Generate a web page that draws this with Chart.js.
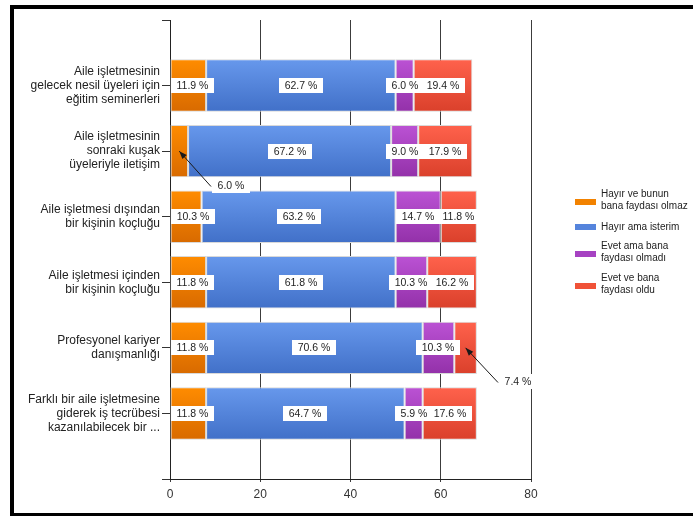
<!DOCTYPE html>
<html>
<head>
<meta charset="utf-8">
<script src="https://cdn.jsdelivr.net/npm/chart.js@4/dist/chart.umd.min.js"></script>
<style>
  html, body { margin: 0; padding: 0; background: #fff; }
  #wrap { position: relative; width: 693px; height: 516px; }
</style>
</head>
<body>
<div id="wrap"><canvas id="chart" width="693" height="516"></canvas></div>
<script>
// Survey topics (y-axis tick labels, one line per array entry)
const categories = [
  ['Aile işletmesinin', 'gelecek nesil üyeleri için', 'eğitim seminerleri'],
  ['Aile işletmesinin', 'sonraki kuşak', 'üyeleriyle iletişim'],
  ['Aile işletmesi dışından', 'bir kişinin koçluğu'],
  ['Aile işletmesi içinden', 'bir kişinin koçluğu'],
  ['Profesyonel kariyer', 'danışmanlığı'],
  ['Farklı bir aile işletmesine', 'giderek iş tecrübesi', 'kazanılabilecek bir ...']
];

// Answer options (legend entries)
const seriesNames = [
  ['Hayır ve bunun', 'bana faydası olmaz'],
  ['Hayır ama isterim'],
  ['Evet ama bana', 'faydası olmadı'],
  ['Evet ve bana', 'faydası oldu']
];

// Number of respondents per answer and topic
const hayirOlmaz   = [8, 4, 7, 8, 8, 8];
const hayirIsterim = [42, 45, 43, 42, 48, 44];
const evetOlmadi   = [4, 6, 10, 7, 7, 4];
const evetOldu     = [13, 12, 8, 11, 5, 12];

// Value axis ticks
const xTicks = [0, 20, 40, 60, 80];

const seriesValues = [hayirOlmaz, hayirIsterim, evetOlmadi, evetOldu];

// top / bottom gradient colours and legend swatch colour per series
const palette = [
  { top: '#ff8c00', bottom: '#d86a00', swatch: '#f28200' },
  { top: '#6798ec', bottom: '#4170c8', swatch: '#5584dc' },
  { top: '#bb52d4', bottom: '#9331a9', swatch: '#a642c2' },
  { top: '#ff624c', bottom: '#da402b', swatch: '#f05238' }
];

// labels that sit outside their (narrow) segment with a pointer arrow
const callouts = [
  { series: 0, row: 1 },
  { series: 3, row: 4 }
];

const FONT = '"Liberation Sans", Arial, Helvetica, sans-serif';
Chart.defaults.font.family = FONT;

function barFill(top, bottom) {
  return (ctx) => {
    const chart = ctx.chart;
    const y = chart.scales && chart.scales.y;
    if (!chart.chartArea || !y || ctx.type !== 'data') return bottom;
    const idx = ctx.parsed ? ctx.parsed.y : ctx.dataIndex;
    const c = y.getPixelForValue(idx);
    const half = Math.abs(y.getPixelForValue(1) - y.getPixelForValue(0)) * 0.4;
    const g = chart.ctx.createLinearGradient(0, c - half, 0, c + half);
    g.addColorStop(0, top);
    g.addColorStop(1, bottom);
    return g;
  };
}

const datasets = seriesValues.map((vals, s) => ({
  label: seriesNames[s].join(' '),
  data: vals.map((v, i) => ({ x: v, y: i })),
  stack: 'all',
  backgroundColor: barFill(palette[s].top, palette[s].bottom),
  borderColor: '#d9d9d9',
  borderWidth: 1,
  borderSkipped: false,
  categoryPercentage: 1,
  barPercentage: 0.8
}));

// white page and the black frame around it
const framePlugin = {
  id: 'frame',
  beforeDraw(chart) {
    const c = chart.ctx;
    c.save();
    c.fillStyle = '#fff';
    c.fillRect(0, 0, chart.width, chart.height);
    c.restore();
  },
  afterDraw(chart) {
    const c = chart.ctx;
    c.save();
    c.fillStyle = '#000';
    c.fillRect(10, 5, chart.width, 4);
    c.fillRect(10, 5, 4, chart.height);
    c.fillRect(10, 513, chart.width, 4);
    c.restore();
  }
};

// percentage labels in white boxes
const valueLabels = {
  id: 'valueLabels',
  afterDatasetsDraw(chart) {
    const c = chart.ctx;
    const area = chart.chartArea;
    const totals = categories.map((_, i) =>
      seriesValues.reduce((sum, vals) => sum + vals[i], 0));
    c.save();
    c.font = '10.5px ' + FONT;
    c.textAlign = 'center';
    c.textBaseline = 'middle';
    seriesValues.forEach((vals, s) => {
      const meta = chart.getDatasetMeta(s);
      meta.data.forEach((bar, i) => {
        const text = (vals[i] / totals[i] * 100).toFixed(1) + ' %';
        const w = Math.round(c.measureText(text).width + 11);
        const h = 15;
        const cx = (bar.x + bar.base) / 2;
        const cy = bar.y;
        const out = callouts.some(o => o.series === s && o.row === i);
        let bx, by;
        if (out) {
          bx = Math.round(cx + 52 - w / 2);
          by = Math.round(cy + 34 - h / 2);
          const sx = bx - 1, sy = by + h / 2 + 1;
          const ang = Math.atan2(cy - sy, cx - sx);
          c.strokeStyle = '#1a1a1a';
          c.lineWidth = 1;
          c.beginPath();
          c.moveTo(sx, sy);
          c.lineTo(cx, cy);
          c.stroke();
          c.fillStyle = '#1a1a1a';
          c.beginPath();
          c.moveTo(cx, cy);
          c.lineTo(cx - 8 * Math.cos(ang) + 3 * Math.sin(ang), cy - 8 * Math.sin(ang) - 3 * Math.cos(ang));
          c.lineTo(cx - 8 * Math.cos(ang) - 3 * Math.sin(ang), cy - 8 * Math.sin(ang) + 3 * Math.cos(ang));
          c.closePath();
          c.fill();
        } else {
          bx = Math.round(Math.max(area.left + 1, cx - w / 2));
          by = Math.round(cy - h / 2);
        }
        c.fillStyle = '#ffffff';
        c.fillRect(bx, by, w, h);
        c.fillStyle = '#1e1e1e';
        c.fillText(text, bx + w / 2, by + h / 2 + 0.5);
      });
    });
    c.restore();
  }
};

// legend on the right with wrapped entries
const sideLegend = {
  id: 'sideLegend',
  afterDraw(chart) {
    const c = chart.ctx;
    const lineH = 11.5;
    const centers = [200, 227, 252, 284];
    c.save();
    c.font = '10px ' + FONT;
    c.textAlign = 'left';
    c.textBaseline = 'middle';
    seriesNames.forEach((lines, s) => {
      const mid = centers[s];
      const first = mid - (lines.length - 1) * lineH / 2;
      const sw = lines.length > 1 ? mid + 2 : mid;
      c.fillStyle = palette[s].swatch;
      c.fillRect(575, Math.round(sw - 3), 21, 6);
      c.fillStyle = '#222';
      lines.forEach((t, k) => c.fillText(t, 601, first + k * lineH));
    });
    c.restore();
  }
};

new Chart(document.getElementById('chart'), {
  type: 'bar',
  data: { datasets },
  plugins: [framePlugin, valueLabels, sideLegend],
  options: {
    indexAxis: 'y',
    responsive: false,
    animation: false,
    layout: { padding: { top: 20, right: 162, left: 0, bottom: 0 } },
    plugins: { legend: { display: false }, tooltip: { enabled: false } },
    scales: {
      x: {
        type: 'linear',
        stacked: true,
        min: xTicks[0],
        max: xTicks[xTicks.length - 1],
        afterBuildTicks: (s) => { s.ticks = xTicks.map(v => ({ value: v })); },
        afterFit: (s) => { s.height = 37; },
        grid: { color: '#3c3c3c', lineWidth: 1, drawTicks: true, tickLength: 3 },
        border: { color: '#222', width: 1 },
        ticks: { color: '#333', font: { size: 12, family: FONT }, padding: 5, maxRotation: 0 }
      },
      y: {
        type: 'linear',
        reverse: true,
        offset: false,
        min: -1,
        max: categories.length,
        afterBuildTicks: (s) => {
          const t = [];
          for (let v = -1; v <= categories.length; v++) t.push({ value: v });
          s.ticks = t;
        },
        afterFit: (s) => { s.width = 170; },
        grid: { offset: false, drawOnChartArea: false, drawTicks: true, tickLength: 8, color: '#333' },
        border: { color: '#222', width: 1 },
        ticks: {
          autoSkip: false,
          padding: 2,
          color: '#222',
          font: { size: 12, family: FONT, lineHeight: 1.17 },
          callback: (v) => (Number.isInteger(v) && v >= 0 && v < categories.length) ? categories[v] : ''
        }
      }
    }
  }
});
</script>
</body>
</html>
